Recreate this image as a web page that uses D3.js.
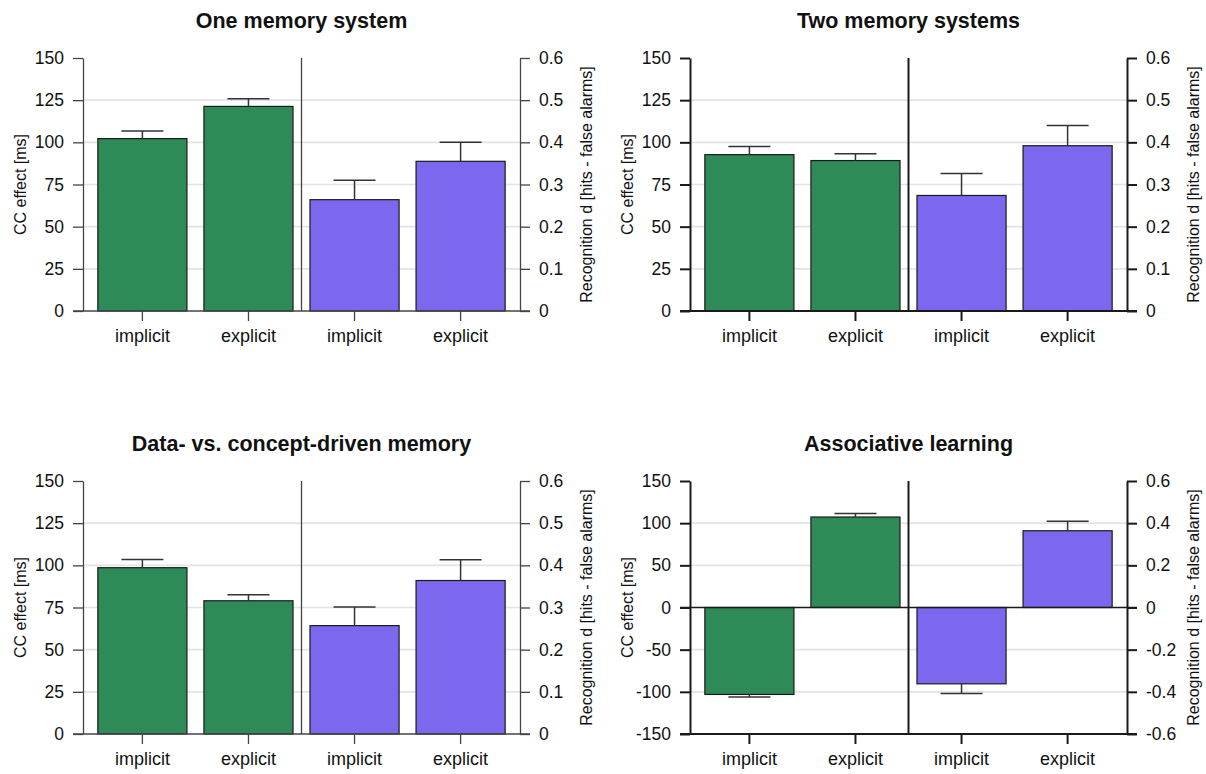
<!DOCTYPE html>
<html>
<head>
<meta charset="utf-8">
<script src="https://cdn.jsdelivr.net/npm/d3@7"></script>
<style>
  body { margin: 0; background: #fff; }
  text { font-family: "Liberation Sans", Arial, sans-serif; }
</style>
</head>
<body>
<div id="chart"></div>
<script>

// ---- data ----
const panelTitles = ["One memory system", "Two memory systems",
                     "Data- vs. concept-driven memory", "Associative learning"];
const conditions = ["implicit", "explicit"];

// CC effect (ms), green bars, left axis
const ccMean = [[102.2, 121.3], [92.7, 89.2], [98.6, 79.0], [-103.1, 107.3]];
const ccErr  = [[4.5, 4.5], [4.9, 4.1], [4.8, 3.6], [3.0, 4.1]];

// recognition d (hits - false alarms), purple bars, right axis
const dMean = [[0.264, 0.355], [0.274, 0.392], [0.257, 0.364], [-0.362, 0.364]];
const dErr  = [[0.046, 0.045], [0.052, 0.048], [0.044, 0.049], [0.046, 0.045]];

const leftDomains  = [[0, 150], [0, 150], [0, 150], [-150, 150]];
const rightDomains = [[0, 0.6], [0, 0.6], [0, 0.6], [-0.6, 0.6]];
const leftTicks = [
  [0, 25, 50, 75, 100, 125, 150], [0, 25, 50, 75, 100, 125, 150],
  [0, 25, 50, 75, 100, 125, 150], [-150, -100, -50, 0, 50, 100, 150]
];
const rightTicks = [
  [0, 0.1, 0.2, 0.3, 0.4, 0.5, 0.6], [0, 0.1, 0.2, 0.3, 0.4, 0.5, 0.6],
  [0, 0.1, 0.2, 0.3, 0.4, 0.5, 0.6], [-0.6, -0.4, -0.2, 0, 0.2, 0.4, 0.6]
];

const leftTitle = "CC effect [ms]";
const rightTitle = "Recognition d [hits - false alarms]";

const green = "#2e8b57", purple = "#7b68ee";

// ---- layout ----
const W = 1206, H = 774;
const offsets = [[0, 0], [607, 0], [0, 423], [607, 423]];
const plotX = [83, 520], plotY = [311, 58];

const svg = d3.select("#chart").append("svg")
    .attr("width", W).attr("height", H);

panelTitles.forEach((title, p) => {
  const [ox, oy] = offsets[p];
  const heavy = p % 2 === 1;         // right-hand panels have darker axes
  const axW = heavy ? 2 : 1.3;
  const axC = heavy ? "#1a1a1a" : "#444";

  const g = svg.append("g").attr("transform", `translate(${ox},${oy})`);

  const keys = ["cc-implicit", "cc-explicit", "d-implicit", "d-explicit"];
  const labels = [conditions[0], conditions[1], conditions[0], conditions[1]];

  const x = d3.scaleBand().domain(keys).range(plotX)
      .paddingInner(0.16).paddingOuter(0.14);
  const yL = d3.scaleLinear().domain(leftDomains[p]).range(plotY);
  const yR = d3.scaleLinear().domain(rightDomains[p]).range(plotY);

  // gridlines
  g.append("g").selectAll("line")
    .data(leftTicks[p].filter(t => t !== leftDomains[p][0] && t !== leftDomains[p][1] && t !== 0))
    .join("line")
      .attr("x1", plotX[0]).attr("x2", plotX[1])
      .attr("y1", d => yL(d)).attr("y2", d => yL(d))
      .attr("stroke", "#e3e3e3").attr("stroke-width", 1.6);

  // bars
  const bars = [
    {k: keys[0], v: ccMean[p][0], e: ccErr[p][0], y: yL, c: green},
    {k: keys[1], v: ccMean[p][1], e: ccErr[p][1], y: yL, c: green},
    {k: keys[2], v: dMean[p][0], e: dErr[p][0], y: yR, c: purple},
    {k: keys[3], v: dMean[p][1], e: dErr[p][1], y: yR, c: purple}
  ];

  g.append("g").selectAll("rect")
    .data(bars)
    .join("rect")
      .attr("x", d => x(d.k))
      .attr("width", x.bandwidth())
      .attr("y", d => Math.min(d.y(d.v), d.y(0)))
      .attr("height", d => Math.abs(d.y(d.v) - d.y(0)))
      .attr("fill", d => d.c)
      .attr("stroke", "#1a1a1a").attr("stroke-width", 1.2);

  // error bars (outward only)
  const capW = 42;
  const eb = g.append("g").attr("stroke", "#333").attr("stroke-width", 1.5);
  bars.forEach(d => {
    const cx = x(d.k) + x.bandwidth() / 2;
    const tip = d.v >= 0 ? d.v + d.e : d.v - d.e;
    eb.append("line").attr("x1", cx).attr("x2", cx)
      .attr("y1", d.y(d.v)).attr("y2", d.y(tip));
    eb.append("line").attr("x1", cx - capW / 2).attr("x2", cx + capW / 2)
      .attr("y1", d.y(tip)).attr("y2", d.y(tip));
  });

  // zero line when axis goes negative
  if (leftDomains[p][0] < 0) {
    g.append("line")
      .attr("x1", plotX[0] - 10).attr("x2", plotX[1] + 10)
      .attr("y1", yL(0)).attr("y2", yL(0))
      .attr("stroke", axC).attr("stroke-width", 1.3);
  }

  // divider between the two measures
  const divX = (x(keys[1]) + x.bandwidth() + x(keys[2])) / 2;
  g.append("line")
    .attr("x1", divX).attr("x2", divX)
    .attr("y1", plotY[1]).attr("y2", plotY[0])
    .attr("stroke", axC).attr("stroke-width", axW);

  // baseline
  g.append("line")
    .attr("x1", plotX[0] - 10).attr("x2", plotX[1] + 10)
    .attr("y1", plotY[0]).attr("y2", plotY[0])
    .attr("stroke", axC).attr("stroke-width", axW);

  // left axis
  const la = g.append("g").attr("transform", `translate(${plotX[0]},0)`)
    .call(d3.axisLeft(yL).tickValues(leftTicks[p]).tickFormat(d => String(d))
      .tickSize(10).tickSizeOuter(0).tickPadding(9));
  // right axis
  const ra = g.append("g").attr("transform", `translate(${plotX[1]},0)`)
    .call(d3.axisRight(yR).tickValues(rightTicks[p]).tickFormat(d => String(+d.toFixed(1)))
      .tickSize(10).tickSizeOuter(0).tickPadding(9));
  // x axis
  const xa = g.append("g").attr("transform", `translate(0,${plotY[0]})`)
    .call(d3.axisBottom(x).tickFormat((d, i) => labels[i])
      .tickSize(10).tickPadding(8));
  xa.select(".domain").remove();

  [la, ra, xa].forEach(a => {
    a.attr("font-family", null).attr("font-size", null);
    a.selectAll(".domain").attr("stroke", axC).attr("stroke-width", axW);
    a.selectAll(".tick line").attr("stroke", axC).attr("stroke-width", axW);
    a.selectAll(".tick text").attr("fill", "#111").style("font-size", "17.5px");
  });
  xa.selectAll(".tick text").style("font-size", "18px");

  // titles
  g.append("text")
    .attr("x", (plotX[0] + plotX[1]) / 2).attr("y", 28)
    .attr("text-anchor", "middle")
    .style("font-size", "21.5px").style("font-weight", "bold")
    .attr("fill", "#111")
    .text(title);

  const midY = (plotY[0] + plotY[1]) / 2;
  g.append("text")
    .attr("transform", `translate(${plotX[0] - 63},${midY}) rotate(-90)`)
    .attr("text-anchor", "middle").attr("dy", "0.35em")
    .style("font-size", "16px").attr("fill", "#111")
    .text(leftTitle);
  g.append("text")
    .attr("transform", `translate(${plotX[1] + 66},${midY}) rotate(-90)`)
    .attr("text-anchor", "middle").attr("dy", "0.35em")
    .style("font-size", "16px").attr("fill", "#111")
    .text(rightTitle);
});

</script>
</body>
</html>
